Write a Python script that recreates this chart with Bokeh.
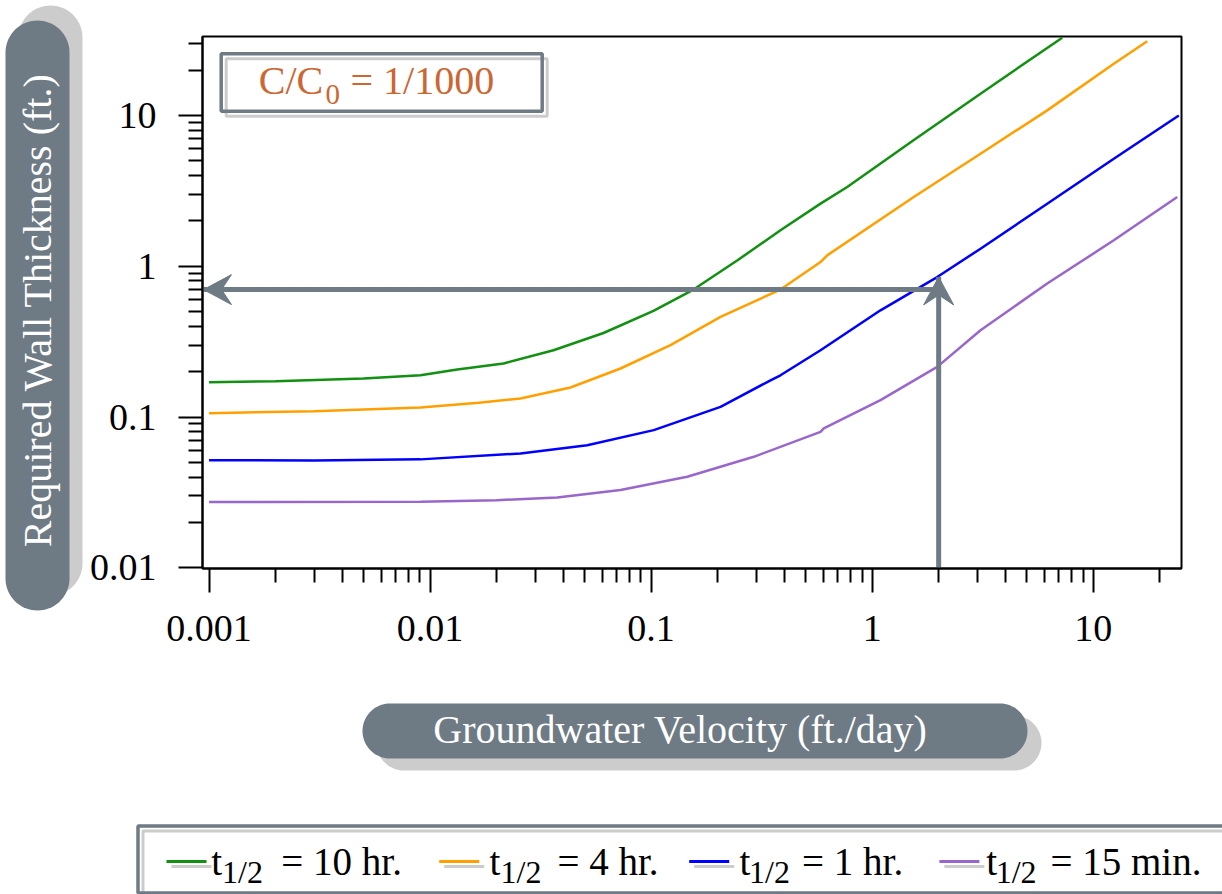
import numpy as np
from bokeh.plotting import figure
from bokeh.models import (Range1d, FixedTicker, CustomJSTickFormatter, LinearScale)
from bokeh.layouts import column, row
from bokeh.embed import file_html
from bokeh.resources import INLINE
from bokeh.core.properties import value

# ---------------- data ----------------
velocity_10hr = [0.001, 0.002, 0.005, 0.00905, 0.01327, 0.02149, 0.03617, 0.0609, 0.1025,
                 0.1555, 0.246, 0.3849, 0.5841, 0.7714, 1.539, 3.093, 7.244]
thickness_10hr = [0.170, 0.173, 0.180, 0.1895, 0.2067, 0.2265, 0.2775, 0.361, 0.506,
                  0.701, 1.096, 1.732, 2.603, 3.354, 6.84, 13.95, 32.8]

velocity_4hr = [0.001, 0.003, 0.00905, 0.01661, 0.02565, 0.04318, 0.0727, 0.1224, 0.2061,
                0.3849, 0.5841, 0.6262, 1.543, 3.093, 6.196, 12.40, 17.56]
thickness_4hr = [0.1061, 0.1094, 0.1158, 0.1242, 0.1328, 0.1571, 0.2099, 0.2996, 0.4614,
                 0.701, 1.066, 1.181, 2.879, 5.58, 10.81, 22.04, 31.1]

velocity_1hr = [0.001, 0.003, 0.00905, 0.02565, 0.0514, 0.1028, 0.2061, 0.3469, 0.3849,
                0.5841, 1.091, 1.97, 3.093, 6.196, 12.40, 24.41]
thickness_1hr = [0.0518, 0.0516, 0.0524, 0.0574, 0.0651, 0.0819, 0.1168, 0.1753, 0.1892,
                 0.2772, 0.5102, 0.848, 1.308, 2.599, 5.166, 10.0]

velocity_15min = [0.001, 0.00905, 0.02, 0.03759, 0.0727, 0.1457, 0.2915, 0.5841, 0.6043,
                  1.091, 1.97, 3.093, 6.196, 12.40, 24.01]
thickness_15min = [0.0273, 0.0274, 0.0281, 0.0293, 0.0328, 0.0402, 0.0545, 0.0798, 0.084,
                   0.1294, 0.2151, 0.3765, 0.768, 1.487, 2.879]

series_labels = ["10 hr.", "4 hr.", "1 hr.", "15 min."]
x_ticks = [0.001, 0.01, 0.1, 1, 10]
y_ticks = [0.01, 0.1, 1, 10]

example_velocity = 2.0        # ft/day, vertical arrow
example_thickness = 0.7       # ft, horizontal arrow
arrow_tip_thickness = 0.85
ratio_label = ("C/C", "0", "= 1/1000")
x_title = "Groundwater Velocity (ft./day)"
y_title = "Required Wall Thickness (ft.)"

# ---------------- styles / layout ----------------
COLORS = ["#119011", "#ffa000", "#0000ff", "#9966cc"]
SLATE = "#6e7a84"
SHADOW = "#cccccc"
RATIO_COLOR = "#cc6633"
SERIF = value("Liberation Serif")
BASE_SHIFT = 0.325   # correction between requested and drawn baseline (fraction of em)

X_RANGE = (0.000934, 25.1)
Y_RANGE = (0.0099, 33.4)

TOTAL_W, TOTAL_H = 1222, 894
LEFT_W, TOP_H = 84, 688
FRAME_L, FRAME_R, FRAME_T, FRAME_B = 202, 1181, 36, 568


def rounded_rect(x0, y0, x1, y1, r):
    t = np.linspace(0, np.pi / 2, 18)
    xs, ys = [], []
    for cx, cy, a0 in [(x1 - r, y1 - r, 0.0), (x0 + r, y1 - r, np.pi / 2),
                       (x0 + r, y0 + r, np.pi), (x1 - r, y0 + r, 1.5 * np.pi)]:
        xs += list(cx + r * np.cos(a0 + t))
        ys += list(cy + r * np.sin(a0 + t))
    return xs, ys


def blank_fig(w, h, xr, yr):
    f = figure(width=w, height=h, x_range=Range1d(*xr), y_range=Range1d(*yr),
               x_axis_location=None, y_axis_location=None, min_border=0,
               toolbar_location=None, output_backend="svg", outline_line_color=None)
    for g in f.grid:
        g.visible = False
    f.background_fill_color = "white"
    f.border_fill_color = "white"
    f.frame_align = False
    return f


def px_x(v):
    a, b = np.log10(X_RANGE[0]), np.log10(X_RANGE[1])
    return FRAME_L + (np.log10(v) - a) / (b - a) * (FRAME_R - FRAME_L)


def px_y(v):
    a, b = np.log10(Y_RANGE[0]), np.log10(Y_RANGE[1])
    return FRAME_B - (np.log10(v) - a) / (b - a) * (FRAME_B - FRAME_T)


def base(y, size):
    return y - BASE_SHIFT * size


# ---------------- main plot ----------------
M = figure(width=TOTAL_W - LEFT_W, height=TOP_H, x_axis_type="log", y_axis_type="log",
           x_range=Range1d(*X_RANGE), y_range=Range1d(*Y_RANGE),
           output_backend="svg", toolbar_location=None,
           min_border_left=FRAME_L - LEFT_W, min_border_right=TOTAL_W - FRAME_R,
           min_border_top=FRAME_T, min_border_bottom=TOP_H - FRAME_B)
M.frame_align = False
M.xgrid.visible = False
M.ygrid.visible = False
M.outline_line_color = "black"
M.outline_line_width = 2
M.background_fill_color = "white"
M.border_fill_color = "white"

minor = [m * 10.0 ** k for k in range(-4, 3) for m in range(2, 10)]
M.xaxis[0].ticker = FixedTicker(ticks=x_ticks, minor_ticks=minor)
M.yaxis[0].ticker = FixedTicker(ticks=y_ticks, minor_ticks=minor)
fmt = CustomJSTickFormatter(code="return String(tick);")
for ax in (M.xaxis[0], M.yaxis[0]):
    ax.formatter = fmt
    ax.axis_line_color = "black"
    ax.axis_line_width = 2
    ax.major_tick_line_color = "black"
    ax.major_tick_line_width = 2
    ax.minor_tick_line_color = "black"
    ax.minor_tick_line_width = 2
    ax.major_tick_in = 0
    ax.major_tick_out = 24
    ax.minor_tick_in = 0
    ax.minor_tick_out = 14
    ax.major_label_text_font = "Liberation Serif"
    ax.major_label_text_font_size = "38px"
    ax.major_label_text_color = "black"
M.yaxis[0].major_label_standoff = 22
M.xaxis[0].major_label_standoff = 23

for xs, ys, c in zip([velocity_10hr, velocity_4hr, velocity_1hr, velocity_15min],
                     [thickness_10hr, thickness_4hr, thickness_1hr, thickness_15min], COLORS):
    M.line(xs, ys, line_color=c, line_width=2.5)

# arrow shafts (data space)
M.segment(x0=[example_velocity, example_velocity],
          y0=[Y_RANGE[0], example_thickness],
          x1=[example_velocity, X_RANGE[0]],
          y1=[arrow_tip_thickness, example_thickness],
          line_color=SLATE, line_width=5)

# pixel-space overlay (for arrow heads and the ratio box)
M.extra_x_ranges = {"px": Range1d(FRAME_L, FRAME_R)}
M.extra_y_ranges = {"px": Range1d(FRAME_B, FRAME_T)}
M.extra_x_scales = {"px": LinearScale()}
M.extra_y_scales = {"px": LinearScale()}

# vee heads: tip, barb, notch, barb  (length 28, half width 15, notch depth 18)
tx, ty = px_x(example_velocity), px_y(arrow_tip_thickness)
M.patch([tx, tx - 15, tx, tx + 15], [ty, ty + 28, ty + 18, ty + 28], fill_color=SLATE,
        line_color=SLATE, line_width=1, x_range_name="px", y_range_name="px")
hx, hy = px_x(X_RANGE[0]) + 1, px_y(example_thickness)
M.patch([hx, hx + 28, hx + 18, hx + 28], [hy, hy - 15, hy, hy + 15], fill_color=SLATE,
        line_color=SLATE, line_width=1, x_range_name="px", y_range_name="px")

M.quad(left=[225.7], right=[546.7], top=[58.3], bottom=[115.7], fill_color=None,
       line_color=SHADOW, line_width=3, x_range_name="px", y_range_name="px")
M.quad(left=[220.7], right=[541.7], top=[53.3], bottom=[110.7], fill_color=None,
       line_color=SLATE, line_width=3.5, x_range_name="px", y_range_name="px")
M.text(x=[258.3], y=[base(93.3, 40)], text=[ratio_label[0]], text_font=SERIF,
       text_font_size="40px", text_color=RATIO_COLOR, text_baseline="alphabetic",
       text_align="left", x_range_name="px", y_range_name="px")
M.text(x=[325.0], y=[base(103.3, 29)], text=[ratio_label[1]], text_font=SERIF,
       text_font_size="29px", text_color=RATIO_COLOR, text_baseline="alphabetic",
       text_align="left", x_range_name="px", y_range_name="px")
M.text(x=[350.0], y=[base(93.3, 40)], text=[ratio_label[2]], text_font=SERIF,
       text_font_size="40px", text_color=RATIO_COLOR, text_baseline="alphabetic",
       text_align="left", x_range_name="px", y_range_name="px")

# ---------------- left (y title pill) ----------------
L = blank_fig(LEFT_W, TOP_H, (0, LEFT_W), (TOP_H, 0))
sx, sy = rounded_rect(18, 5, 82, 595, 32)
L.patch(sx, sy, fill_color=SHADOW, line_color=None)
mx, my = rounded_rect(5, 20, 69, 610, 32)
L.patch(mx, my, fill_color=SLATE, line_color=None)
L.text(x=[50 - BASE_SHIFT * 40], y=[309.5], text=[y_title], angle=np.pi / 2,
       text_font=SERIF, text_font_size="40px", text_color="white", text_align="center",
       text_baseline="alphabetic")

# ---------------- bottom (x title pill + legend) ----------------
B = blank_fig(TOTAL_W, TOTAL_H - TOP_H, (0, TOTAL_W), (TOTAL_H, TOP_H))
sx, sy = rounded_rect(376, 715, 1041, 770, 27.5)
B.patch(sx, sy, fill_color=SHADOW, line_color=None)
mx, my = rounded_rect(362, 703, 1027, 758, 27.5)
B.patch(mx, my, fill_color=SLATE, line_color=None)
B.text(x=[680], y=[base(742.0, 40)], text=[x_title], text_font=SERIF,
       text_font_size="40px", text_color="white", text_align="center",
       text_baseline="alphabetic")

# legend frame
B.quad(left=[142.5], right=[1240], top=[830.5], bottom=[897.5], fill_color=None,
       line_color=SHADOW, line_width=3)
B.quad(left=[137.5], right=[1235], top=[825.5], bottom=[892.5], fill_color=None,
       line_color=SLATE, line_width=3.5)

swatch_x0 = [166.0, 438.7, 688.7, 938.9]
swatch_len = 40.0
t_x = [210.8, 489.0, 739.0, 985.8]
sub_x = [221.6, 500.0, 748.5, 995.2]
eq_x = [280.8, 557.0, 801.6, 1050.0]
SW_Y = 861.0
BASE_Y = 874.0
SUB_Y = 882.0

B.segment(x0=[x + 5 for x in swatch_x0], y0=[SW_Y + 5] * 4,
          x1=[x + 5 + swatch_len for x in swatch_x0], y1=[SW_Y + 5] * 4,
          line_color=SHADOW, line_width=3)
B.segment(x0=swatch_x0, y0=[SW_Y] * 4, x1=[x + swatch_len for x in swatch_x0],
          y1=[SW_Y] * 4, line_color=COLORS, line_width=3)
B.text(x=t_x, y=[base(BASE_Y, 39)] * 4, text=["t"] * 4, text_font=SERIF,
       text_font_size="39px", text_color="black", text_align="left",
       text_baseline="alphabetic")
B.text(x=sub_x, y=[base(SUB_Y, 32)] * 4, text=["1/2"] * 4, text_font=SERIF,
       text_font_size="32px", text_color="black", text_align="left",
       text_baseline="alphabetic")
B.text(x=eq_x, y=[base(BASE_Y, 39)] * 4, text=["= " + s for s in series_labels],
       text_font=SERIF, text_font_size="39px", text_color="black", text_align="left",
       text_baseline="alphabetic")

layout = column(row(L, M, spacing=0), B, spacing=0)

open("out.html", "w").write(file_html(layout, INLINE))
